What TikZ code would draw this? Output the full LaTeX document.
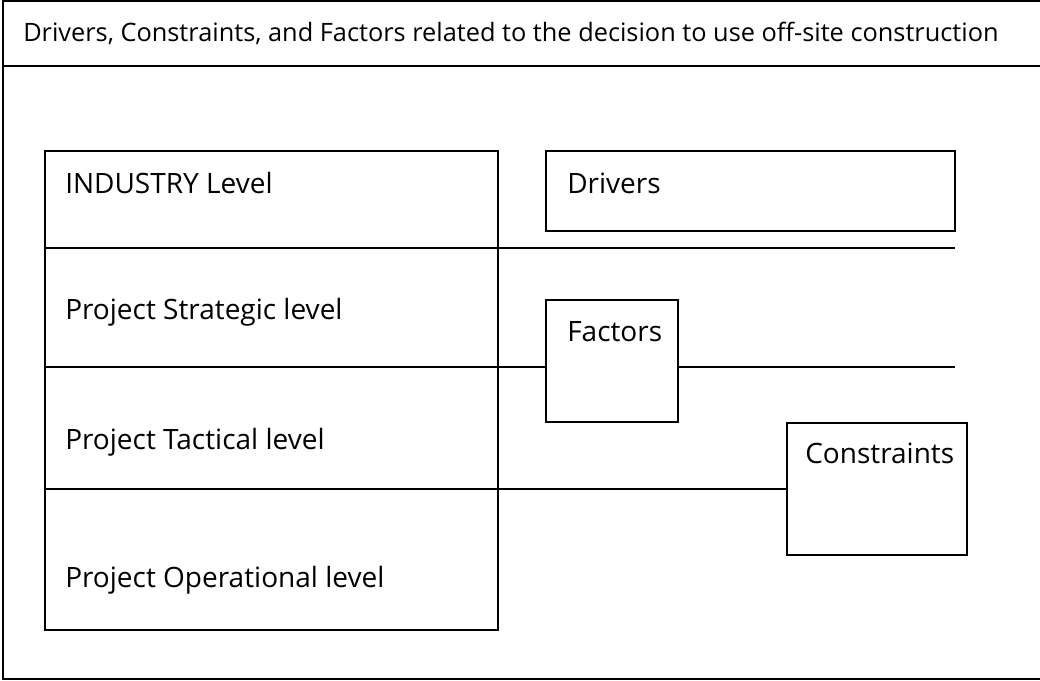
\documentclass[tikz,border=0pt]{standalone}
\usepackage{fontspec}
\setmainfont{Open Sans}
\usetikzlibrary{positioning}
\newdimen\px \px=0.75pt
\tikzset{
  levelbox/.style={rectangle, draw=black, line width=1.5\px, inner sep=0pt, outer sep=0pt, anchor=north west},
  levellabel/.style={anchor=west, inner sep=0pt},
  sepline/.style={draw=black, line width=1.5\px},
}
\begin{document}
\begin{tikzpicture}[x=1\px, y=-1\px, font=\fontsize{21pt}{25pt}\selectfont]
\useasboundingbox (0,0) rectangle (1040,681);
% outer frame and title
\node[levelbox, minimum width=1040\px, minimum height=678\px] (frame) at (3,1) {};
\draw[sepline] (frame.west |- 0,66) coordinate (titleL) -- (frame.east |- 0,66) coordinate (titleR);
\node[levellabel, font=\fontsize{19pt}{23pt}\selectfont] (title) at (23,33) {Drivers, Constraints, and Factors related to the decision to use off-site construction};

% the four levels
\node[levelbox, minimum width=453\px, minimum height=479\px] (levels) at (45,151) {};
\node[levellabel] (industry) at (65,183) {INDUSTRY Level};
\node[levellabel] (strategic) at (65,312) {Project Strategic level};
\node[levellabel] (tactical) at (65,442) {Project Tactical level};
\node[levellabel] (operational) at (65,580) {Project Operational level};

% drivers, factors, constraints
\node[levelbox, minimum width=409\px, minimum height=80\px] (drivers) at (546,151) {};
\node[levellabel] at (567,183) {Drivers};
\node[levelbox, minimum width=132\px, minimum height=122\px] (factors) at (546,300) {};
\node[levellabel] at (567,332) {Factors};
\node[levelbox, minimum width=180\px, minimum height=132\px] (constraints) at (787,423) {};
\node[levellabel] at (805,453) {Constraints};

% level boundaries
\coordinate (driversEnd) at (955,248);
\coordinate (factorsEnd) at (955,367);
\draw[sepline] (levels.west |- driversEnd) -- (driversEnd);
\draw[sepline] (levels.west |- factorsEnd) -- (factors.west |- factorsEnd);
\draw[sepline] (factors.east |- factorsEnd) -- (factorsEnd);
\draw[sepline] (levels.west |- constraints.west) -- (constraints.west);
\end{tikzpicture}
\end{document}
